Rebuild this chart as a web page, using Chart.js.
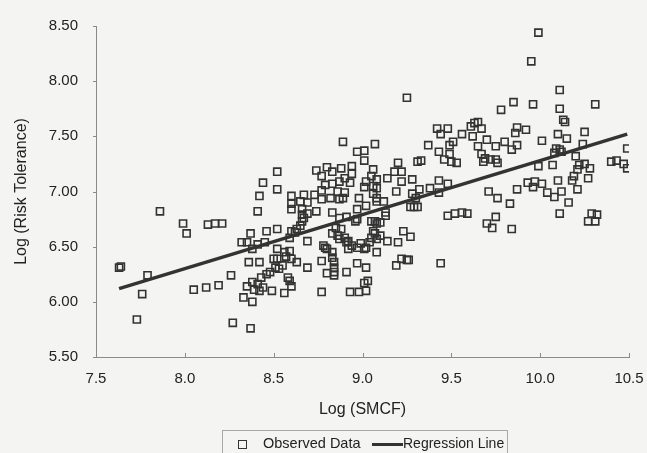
<!DOCTYPE html>
<html>
<head>
<meta charset="utf-8">
<script src="https://cdn.jsdelivr.net/npm/chart.js@4.4.1/dist/chart.umd.min.js"></script>
<style>
  html, body { margin: 0; padding: 0; background: #f4f4f2; }
  #wrap { position: relative; width: 647px; height: 453px; overflow: hidden; }
  #legend {
    position: absolute; left: 222px; top: 430px; width: 286px; height: 30px;
    border: 1px solid #a8a8a8; box-sizing: border-box;
    font: 14.5px "Liberation Sans", Arial, sans-serif; color: #222;
  }
  #legend span { position: absolute; top: 4px; white-space: nowrap; }
  .mark { position: absolute; top: 9px; width: 7px; height: 7px; border: 1.5px solid #333; }
  .rline { position: absolute; top: 12px; height: 3px; background: #333; }
</style>
</head>
<body>
<div id="wrap">
  <canvas id="chart" width="647" height="453"></canvas>
  <div id="legend">
    <div class="mark" style="left:15px"></div>
    <span style="left:40px">Observed Data</span>
    <div class="rline" style="left:149px;width:31px"></div>
    <span style="left:180px;font-size:14px">Regression Line</span>
  </div>
</div>
<script>
// Log (SMCF) vs Log (Risk Tolerance)
const observedPoints = [
  [7.63,6.31],[7.64,6.32],[7.86,6.82],[7.99,6.71],[8.01,6.62],[8.13,6.70],[8.17,6.71],[8.21,6.71],
  [7.79,6.24],[7.76,6.07],[7.73,5.84],[8.05,6.11],[8.12,6.13],[8.19,6.15],[8.26,6.24],[8.27,5.81],
  [8.37,5.76],[8.33,6.04],[8.38,6.00],[8.44,7.08],[8.42,6.96],[8.41,6.82],[8.32,6.54],[8.37,6.62],
  [8.36,6.36],[8.42,6.36],[8.35,6.14],[8.38,6.18],[8.41,6.16],[8.39,6.11],[8.42,6.10],[8.44,6.13],
  [8.43,6.22],[8.46,6.25],[8.48,6.27],[8.49,6.10],
  [8.89,7.45],[8.52,7.18],[8.52,7.02],[8.74,7.19],[8.80,7.22],[8.83,7.18],[8.88,7.21],[8.77,7.14],
  [8.79,7.06],[8.83,7.07],[8.87,7.09],[8.90,7.12],[8.77,7.01],[8.86,7.00],[8.90,6.99],[8.60,6.96],
  [8.67,6.97],[8.73,6.97],[8.60,6.89],[8.65,6.91],[8.69,6.90],[8.77,6.93],[8.82,6.94],[8.87,6.93],
  [8.60,6.84],[8.66,6.84],[8.74,6.82],[8.83,6.81],[8.66,6.79],[8.69,6.80],[8.87,6.76],[8.91,6.77],
  [8.97,7.36],[9.01,7.37],[9.01,7.28],[9.07,7.43],[8.94,7.23],[8.94,7.16],[9.06,7.20],[8.93,7.08],
  [9.02,7.09],[9.05,7.14],[9.01,7.04],[9.06,7.05],[8.98,6.94],[9.06,6.98],[8.89,6.94],[8.97,6.84],
  [9.02,6.87],[9.08,6.91],[8.97,6.75],[9.05,6.73],[8.85,6.67],
  [9.25,7.85],[9.42,7.57],[9.48,7.57],[9.44,7.52],[9.56,7.52],[9.37,7.42],[9.51,7.45],[9.49,7.42],
  [9.43,7.36],[9.49,7.34],[9.46,7.29],[9.50,7.27],[9.53,7.26],[9.31,7.27],[9.33,7.28],[9.20,7.26],
  [9.18,7.18],[9.22,7.18],[9.08,7.11],[9.14,7.12],[9.22,7.09],[9.28,7.11],[9.08,7.03],[9.43,7.10],
  [9.48,7.07],[9.32,7.02],[9.38,7.03],[9.43,6.99],[9.08,6.94],[9.19,7.00],[9.28,6.98],[9.30,6.94],
  [9.12,6.91],[9.27,6.86],[9.29,6.86],[9.31,6.86],[9.13,6.81],[9.48,6.78],[9.52,6.80],[9.56,6.81],
  [9.59,6.80],
  [9.78,7.74],[9.62,7.50],[9.63,7.62],[9.65,7.63],[9.67,7.57],[9.61,7.59],[9.65,7.41],[9.70,7.47],
  [9.75,7.41],[9.80,7.45],[9.67,7.34],[9.69,7.30],[9.68,7.27],[9.72,7.29],[9.75,7.29],[9.76,7.26],
  [9.71,7.00],[9.76,6.94],[9.70,6.71],[9.73,6.67],[9.75,6.77],[9.83,6.89],
  [9.99,8.44],[9.95,8.18],[10.11,7.92],[9.85,7.81],[9.96,7.79],[10.11,7.75],[10.31,7.79],[10.13,7.65],
  [10.14,7.63],[9.87,7.58],[9.92,7.56],[9.86,7.53],[10.10,7.52],[10.15,7.48],[10.25,7.54],[10.01,7.46],
  [9.84,7.38],[9.87,7.42],[10.09,7.39],[10.11,7.38],[10.12,7.36],[10.08,7.35],[10.24,7.43],[10.49,7.39],
  [10.20,7.32],[10.07,7.24],[9.99,7.23],[10.22,7.24],[10.25,7.25],[10.28,7.21],[10.21,7.20],[10.40,7.27],
  [10.43,7.28],[10.47,7.25],[10.49,7.21],[10.19,7.14],[10.18,7.10],[10.27,7.12],[10.10,7.10],[9.93,7.08],
  [9.97,7.09],[10.01,7.07],[10.04,6.99],[9.87,7.02],[9.96,7.04],[10.21,7.02],[10.12,7.00],[10.08,6.95],
  [10.16,6.90],[10.11,6.80],[9.84,6.66],[10.29,6.80],[10.32,6.79],[10.27,6.73],[10.31,6.73],
  [8.51,6.31],[8.52,6.39],[8.50,6.39],[8.53,6.30],[8.55,6.33],[8.57,6.41],[8.59,6.46],[8.56,6.45],
  [8.60,6.39],[8.63,6.36],[8.69,6.31],[8.35,6.54],[8.38,6.48],[8.41,6.52],[8.45,6.54],[8.46,6.64],
  [8.52,6.66],[8.59,6.58],[8.60,6.64],[8.63,6.66],[8.62,6.63],[8.65,6.69],[8.66,6.73],[8.67,6.76],
  [8.69,6.55],[8.52,6.48],[8.58,6.22],[8.59,6.19],[8.60,6.14],[8.56,6.08],[8.77,6.09],
  [8.77,6.37],[8.78,6.51],[8.79,6.49],[8.80,6.48],[8.83,6.45],[8.83,6.40],[8.84,6.36],[8.84,6.31],
  [8.84,6.27],[8.80,6.26],[8.84,6.24],[8.83,6.62],[8.86,6.60],[8.88,6.66],[8.87,6.57],[8.91,6.54],
  [8.92,6.48],[8.91,6.27],[8.93,6.09],
  [8.96,6.73],[9.07,6.73],[9.08,6.71],[9.10,6.72],[9.13,6.78],[8.90,6.58],[8.92,6.55],[8.94,6.51],
  [8.97,6.49],[8.99,6.53],[9.01,6.48],[9.02,6.49],[9.04,6.54],[9.05,6.58],[9.07,6.62],[9.10,6.60],
  [9.06,6.64],[9.08,6.57],[9.08,6.45],[9.14,6.55],[9.20,6.54],[9.23,6.64],[9.27,6.59],[9.19,6.33],
  [9.22,6.39],[9.25,6.38],[9.26,6.38],[9.44,6.35],[8.97,6.35],[9.02,6.31],[8.98,6.09],[9.02,6.10],
  [9.03,6.19],[9.01,6.17]
];
const regressionX = [7.63, 10.49];
const regressionY = [6.12, 7.52];
const xTicks = [7.5, 8.0, 8.5, 9.0, 9.5, 10.0, 10.5];
const yTicks = [5.5, 6.0, 6.5, 7.0, 7.5, 8.0, 8.5];

const ink = '#333';
const font = { family: '"Liberation Sans", Arial, sans-serif', size: 15 };

// small inward tick marks like the original axes
const innerTicks = {
  id: 'innerTicks',
  afterDraw(chart) {
    const { ctx, chartArea, scales } = chart;
    ctx.save();
    ctx.strokeStyle = '#8a8a8a';
    ctx.lineWidth = 1;
    ctx.beginPath();
    xTicks.forEach(v => {
      const px = Math.round(scales.x.getPixelForValue(v)) + 0.5;
      ctx.moveTo(px, chartArea.bottom);
      ctx.lineTo(px, chartArea.bottom - 4);
    });
    yTicks.forEach(v => {
      const py = Math.round(scales.y.getPixelForValue(v)) + 0.5;
      ctx.moveTo(chartArea.left, py);
      ctx.lineTo(chartArea.left - 3, py);
    });
    ctx.stroke();
    ctx.restore();
  }
};

new Chart(document.getElementById('chart'), {
  type: 'scatter',
  data: {
    datasets: [{
      label: 'Observed Data',
      data: observedPoints.map(p => ({ x: p[0], y: p[1] })),
      pointStyle: 'rect',
      pointRadius: 5,
      pointBorderWidth: 1.6,
      pointBorderColor: ink,
      pointBackgroundColor: 'rgba(0,0,0,0)',
      order: 2
    }, {
      type: 'line',
      label: 'Regression Line',
      data: regressionX.map((x, i) => ({ x: x, y: regressionY[i] })),
      borderColor: ink,
      borderWidth: 3.5,
      pointRadius: 0,
      fill: false,
      order: 1
    }]
  },
  options: {
    responsive: false,
    animation: false,
    devicePixelRatio: 1,
    layout: { padding: { left: 0, right: 18, top: 26, bottom: 31 } },
    plugins: { legend: { display: false }, tooltip: { enabled: false } },
    scales: {
      x: {
        type: 'linear', min: 7.5, max: 10.5,
        afterBuildTicks: s => { s.ticks = xTicks.map(v => ({ value: v })); },
        afterFit: s => { s.height = 65; s.paddingLeft = 0; s.paddingRight = 0; },
        grid: { display: true, drawOnChartArea: false, drawTicks: false },
        border: { color: '#8a8a8a', width: 1 },
        ticks: { color: '#222', font: font, padding: 13, callback: v => v.toFixed(1) },
        title: { display: true, text: 'Log (SMCF)', color: '#222',
                 font: { family: font.family, size: 16 }, padding: { top: 3, bottom: 3 } }
      },
      y: {
        type: 'linear', min: 5.5, max: 8.5,
        afterBuildTicks: s => { s.ticks = yTicks.map(v => ({ value: v })); },
        afterFit: s => { s.width = 96; s.paddingTop = 0; s.paddingBottom = 0; },
        grid: { display: true, drawOnChartArea: false, drawTicks: false },
        border: { color: '#8a8a8a', width: 1 },
        ticks: { color: '#222', font: font, padding: 18, callback: v => v.toFixed(2) },
        title: { display: true, text: 'Log (Risk Tolerance)', color: '#222',
                 font: { family: font.family, size: 16 }, padding: { top: 12, bottom: 12 } }
      }
    }
  },
  plugins: [innerTicks]
});
</script>
</body>
</html>
